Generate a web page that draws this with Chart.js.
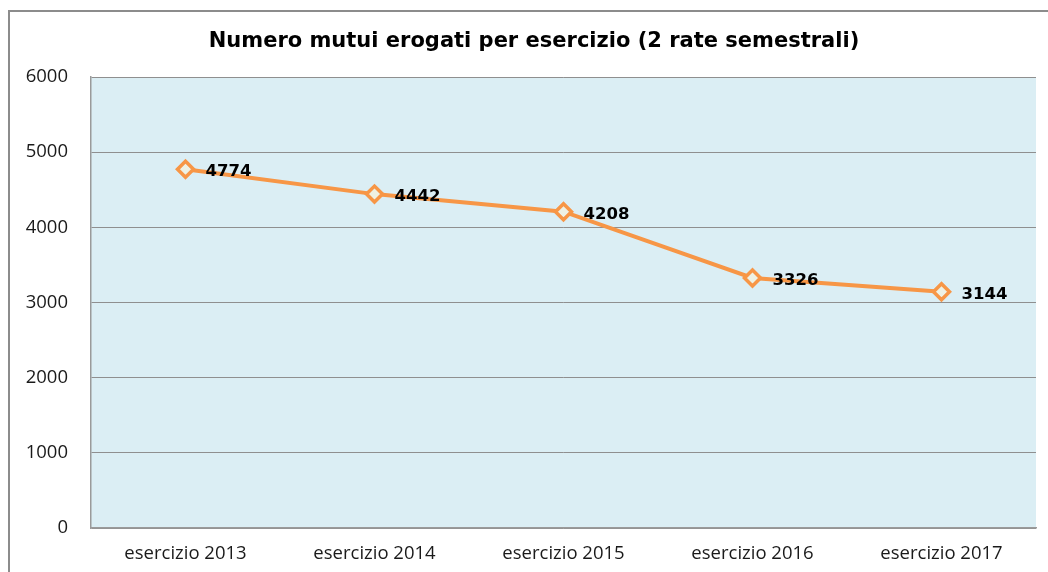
<!DOCTYPE html>
<html>
<head>
<meta charset="utf-8">
<script src="https://cdn.jsdelivr.net/npm/chart.js@4"></script>
<style>
  html, body { margin: 0; padding: 0; background: #fff; }
  #wrap { width: 1048px; height: 572px; }
</style>
</head>
<body>
<div id="wrap"><canvas id="chart" width="1048" height="572"></canvas></div>
<script>
const categories = ['esercizio 2013', 'esercizio 2014', 'esercizio 2015', 'esercizio 2016', 'esercizio 2017'];
const mutui = [4774, 4442, 4208, 3326, 3144];
const yTicks = [0, 1000, 2000, 3000, 4000, 5000, 6000];
const titleText = 'Numero mutui erogati per esercizio (2 rate semestrali)';

// outer frame, title and plot background
const framePlugin = {
  id: 'frame',
  beforeDraw(chart) {
    const { ctx, chartArea: a } = chart;
    ctx.save();
    ctx.fillStyle = '#DBEEF4';
    ctx.fillRect(a.left, a.top, a.right - a.left, a.bottom - a.top);
    ctx.strokeStyle = '#8c8c8c';
    ctx.lineWidth = 2;
    ctx.strokeRect(9, 11, 1200, 1000);
    // title is off-centre relative to the canvas, so draw it here
    ctx.font = 'bold 21px "DejaVu Sans"';
    ctx.fillStyle = '#000';
    ctx.textAlign = 'center';
    ctx.textBaseline = 'middle';
    ctx.fillText(titleText, 534, 42);
    ctx.restore();
  }
};

// value labels to the right of each point
const labelPlugin = {
  id: 'valueLabels',
  afterDatasetsDraw(chart) {
    const { ctx } = chart;
    const meta = chart.getDatasetMeta(0);
    ctx.save();
    ctx.font = 'bold 16.5px "DejaVu Sans"';
    ctx.fillStyle = '#000';
    ctx.textAlign = 'left';
    ctx.textBaseline = 'middle';
    meta.data.forEach((pt, i) => {
      ctx.fillText(String(mutui[i]), pt.x + 20, pt.y + 3);
    });
    ctx.restore();
  }
};

new Chart(document.getElementById('chart'), {
  type: 'line',
  data: {
    labels: categories,
    datasets: [{
      data: mutui,
      borderColor: '#F79646',
      borderWidth: 4,
      pointStyle: 'rectRot',
      pointRadius: 8,
      pointHoverRadius: 8,
      pointBorderWidth: 3.5,
      pointBackgroundColor: '#EEF1E4',
      pointBorderColor: '#F79646',
      tension: 0
    }]
  },
  options: {
    responsive: false,
    animation: false,
    layout: { padding: { top: 77, left: 0, right: 12, bottom: 0 } },
    plugins: {
      legend: { display: false },
      tooltip: { enabled: false },
      title: { display: false }
    },
    scales: {
      x: {
        offset: true,
        grid: { display: false },
        border: { display: true, color: '#9a9a9a', width: 1.5 },
        ticks: {
          color: '#1a1a1a',
          font: { family: '"Open Sans"', size: 18.5 },
          padding: 7,
          maxRotation: 0
        },
        afterFit(scale) { scale.height = 44; }
      },
      y: {
        min: 0,
        max: 6000,
        afterBuildTicks(scale) { scale.ticks = yTicks.map(v => ({ value: v })); },
        grid: { color: '#8f8f8f', lineWidth: 1, drawTicks: false },
        border: { display: true, color: '#9a9a9a', width: 1.5 },
        ticks: {
          color: '#1a1a1a',
          font: { family: '"Open Sans"', size: 18.5 },
          padding: 23,
          callback: v => String(v)
        },
        afterFit(scale) { scale.width = 91; }
      }
    }
  },
  plugins: [framePlugin, labelPlugin]
});
</script>
</body>
</html>
